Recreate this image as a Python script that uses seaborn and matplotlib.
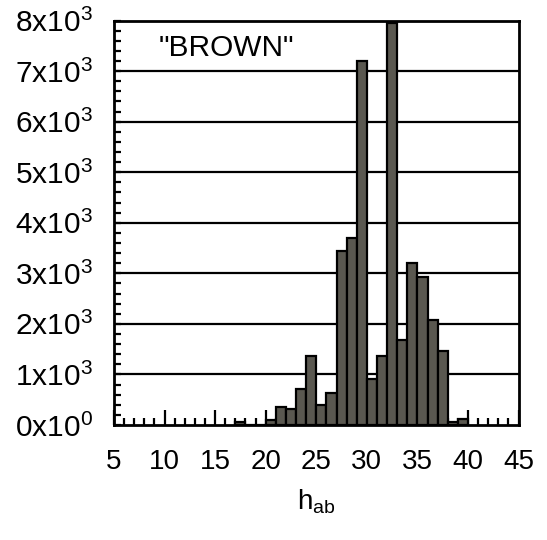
import numpy as np
import pandas as pd
import matplotlib
matplotlib.use("Agg")
import matplotlib.pyplot as plt
from matplotlib.ticker import MultipleLocator, FixedLocator
import seaborn as sns

# Hue-angle histogram for the "BROWN" class (1-degree bins)
bin_left = [17, 20, 21, 22, 23, 24, 25, 26, 27, 28, 29,
            30, 31, 32, 33, 34, 35, 36, 37, 38, 39]
counts = [60, 100, 360, 310, 710, 1370, 400, 625, 3450, 3690, 7200,
          900, 1370, 7950, 1680, 3200, 2930, 2075, 1470, 60, 120]

x_ticks = [5, 10, 15, 20, 25, 30, 35, 40, 45]
y_ticks = [0, 1000, 2000, 3000, 4000, 5000, 6000, 7000, 8000]
y_tick_labels = ["0x10$^{0}$", "1x10$^{3}$", "2x10$^{3}$", "3x10$^{3}$",
                 "4x10$^{3}$", "5x10$^{3}$", "6x10$^{3}$", "7x10$^{3}$",
                 "8x10$^{3}$"]

df = pd.DataFrame({"hab": np.array(bin_left, dtype=float) + 0.5,
                   "count": np.array(counts, dtype=float)})

sns.set_style("white")
plt.rcParams["font.family"] = ["Liberation Sans", "DejaVu Sans"]
plt.rcParams["mathtext.fontset"] = "custom"
plt.rcParams["mathtext.rm"] = "Liberation Sans"
plt.rcParams["mathtext.it"] = "Liberation Sans:italic"
plt.rcParams["mathtext.bf"] = "Liberation Sans:bold"

fig = plt.figure(figsize=(5.47, 5.40), dpi=100)
ax = fig.add_axes([0.2084, 0.213, 0.7396, 0.749])

# horizontal grid behind the bars
for yv in y_ticks[1:-1]:
    ax.axhline(yv, color="black", linewidth=1.6, zorder=0)

sns.histplot(data=df, x="hab", weights="count",
             binwidth=1, binrange=(min(bin_left), max(bin_left) + 1),
             color="#5a5850", edgecolor="black", linewidth=1.6,
             alpha=1.0, ax=ax)
for p in ax.patches:
    p.set_zorder(2)

ax.set_xlim(5, 45)
ax.set_ylim(0, 8000)
ax.xaxis.set_major_locator(FixedLocator(x_ticks))
ax.xaxis.set_minor_locator(MultipleLocator(1))
ax.yaxis.set_major_locator(FixedLocator(y_ticks))
ax.yaxis.set_minor_locator(MultipleLocator(200))
ax.set_yticklabels(y_tick_labels)

ax.tick_params(axis="both", which="both", direction="in",
               bottom=True, left=True, top=False, right=False,
               width=1.6, colors="black")
ax.tick_params(axis="x", which="major", length=11, pad=17, labelsize=20)
ax.tick_params(axis="x", which="minor", length=5)
ax.tick_params(axis="y", which="major", length=5, pad=15, labelsize=21.5)
ax.tick_params(axis="y", which="minor", length=5)

for sp in ax.spines.values():
    sp.set_visible(True)
    sp.set_color("black")
    sp.set_linewidth(2.0)
    sp.set_zorder(5)

ax.set_xlabel("h$_{\\mathregular{ab}}$", fontsize=20, labelpad=9,
              color="black")
ax.set_ylabel("")

ax.text(0.111, 0.932, '"BROWN"', transform=ax.transAxes,
        fontsize=21.5, ha="left", va="center", color="black")

fig.savefig("out.png", dpi=100)
